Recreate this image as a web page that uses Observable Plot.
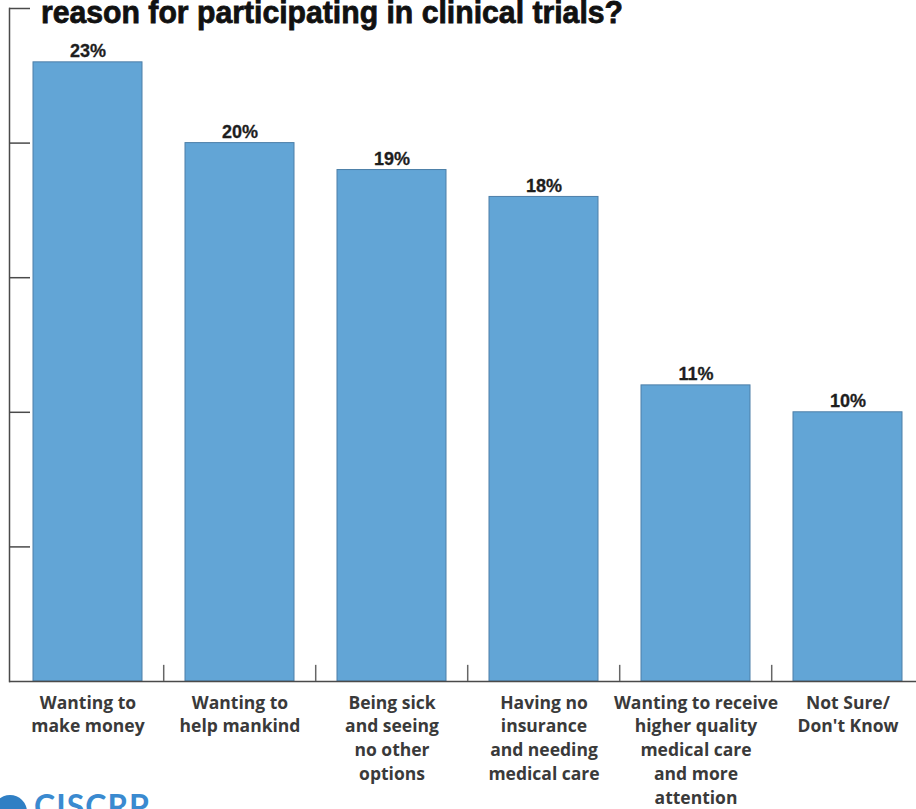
<!DOCTYPE html>
<html><head><meta charset="utf-8">
<script src="https://cdn.jsdelivr.net/npm/d3@7"></script>
<script src="https://cdn.jsdelivr.net/npm/@observablehq/plot@0.6"></script>
<style>body{margin:0;background:#fff}#chart svg{display:block}</style>
</head><body><div id="chart"></div>
<script>
const categories = [
  "Wanting to\nmake money",
  "Wanting to\nhelp mankind",
  "Being sick\nand seeing\nno other\noptions",
  "Having no\ninsurance\nand needing\nmedical care",
  "Wanting to receive\nhigher quality\nmedical care\nand more\nattention",
  "Not Sure/\nDon't Know"
];
const values = [23, 20, 19, 18, 11, 10];
const valueLabels = ["23%", "20%", "19%", "18%", "11%", "10%"];
const yTicks = [5, 10, 15, 20, 25];
const titleText = "reason for participating in clinical trials?";
const logoText = "CISCRP";

const data = categories.map((c, i) => ({category: c, value: values[i], label: valueLabels[i]}));
const axisColor = "#4a4a4a";

const chart = Plot.plot({
  width: 916,
  height: 809,
  marginTop: 8,
  marginBottom: 128,
  marginLeft: 9,
  marginRight: 0,
  style: {background: "#fff"},
  x: {type: "band", domain: categories, range: [10, 926], paddingInner: 0.28, paddingOuter: 0.14, axis: null},
  y: {domain: [0, 25], axis: null},
  marks: [
    Plot.barY(data, {x: "category", y: "value", fill: "#62a5d6", stroke: "#4d7fa8", strokeWidth: 1}),
    Plot.text(data, {x: "category", y: "value", text: "label", dy: -11, fontFamily: "'Liberation Sans Narrow', 'Liberation Sans', sans-serif", fontWeight: "bold", fontSize: 18, fill: "#1e1e1e", stroke: "#1e1e1e", strokeWidth: 0.3}),
    Plot.text(data, {x: "category", y: 0, text: "category", lineAnchor: "top", dy: 10, lineHeight: 1.37, fontFamily: "'Open Sans', Lato, sans-serif", fontWeight: "bold", fontSize: 17.5, fill: "#3a3a3a"}),
    Plot.frame({anchor: "left", stroke: axisColor, strokeWidth: 1.5}),
    Plot.ruleY([0], {stroke: axisColor, strokeWidth: 1.5}),
    Plot.ruleY(yTicks, {stroke: axisColor, strokeWidth: 1.5, insetRight: 886}),
    Plot.ruleX(categories.slice(1), {x: d => d, y1: 0, y2: 0.6, dx: -76.3, stroke: "#666", strokeWidth: 1.5})
  ]
});

const svg = d3.select(chart);
svg.append("text")
  .attr("x", 41).attr("y", 23)
  .attr("text-anchor", "start")
  .attr("textLength", 582).attr("lengthAdjust", "spacingAndGlyphs")
  .style("font-family", "'Liberation Sans Narrow', 'Liberation Sans', sans-serif")
  .style("font-weight", "bold").style("font-size", "32px").style("fill", "#111")
  .style("stroke", "#111").style("stroke-width", "0.8px")
  .text(titleText);
svg.append("circle").attr("cx", 10).attr("cy", 812).attr("r", 17).attr("fill", "#2f7fc4");
svg.append("text")
  .attr("x", 34).attr("y", 818)
  .attr("text-anchor", "start")
  .style("font-family", "Lato, sans-serif").style("font-weight", "bold")
  .style("font-size", "32px").style("fill", "#3a8ad0").style("letter-spacing", "1px")
  .text(logoText);

document.getElementById("chart").appendChild(chart);
</script>
</body></html>
